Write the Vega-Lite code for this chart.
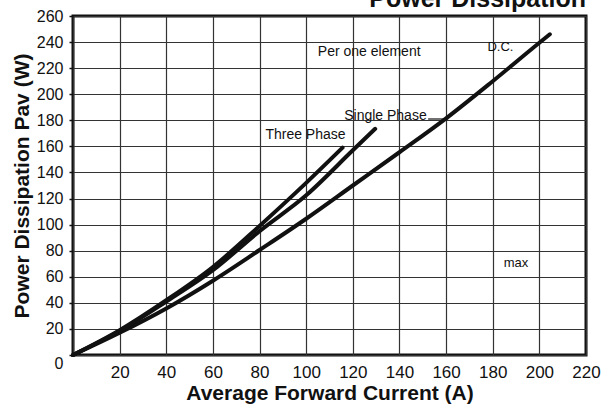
{
  "$schema": "https://vega.github.io/schema/vega-lite/v6.json",
  "autosize": {"type": "none"},
  "width": 513,
  "height": 339,
  "padding": {"left": 73, "top": 16, "right": 19, "bottom": 50},
  "background": "white",
  "title": {
    "text": "Power Dissipation",
    "anchor": "end",
    "frame": "group",
    "baseline": "alphabetic",
    "offset": -24,
    "font": "Liberation Sans",
    "fontSize": 25,
    "fontWeight": "bold",
    "color": "#111"
  },
  "config": {
    "view": {"stroke": "#111", "strokeWidth": 3},
    "axis": {
      "grid": true,
      "gridColor": "#333",
      "gridWidth": 1.2,
      "gridOpacity": 1,
      "domain": false,
      "labelFont": "Liberation Sans",
      "labelColor": "#111",
      "labelOverlap": false,
      "titleFont": "Liberation Sans",
      "titleFontWeight": "bold",
      "titleColor": "#111"
    }
  },
  "datasets": {
    "curves": [
      {"series": "D.C.", "current": 0, "power": 0},
      {"series": "D.C.", "current": 20, "power": 17},
      {"series": "D.C.", "current": 40, "power": 35.7},
      {"series": "D.C.", "current": 60, "power": 57},
      {"series": "D.C.", "current": 80, "power": 80.5},
      {"series": "D.C.", "current": 100, "power": 104.5},
      {"series": "D.C.", "current": 120, "power": 130},
      {"series": "D.C.", "current": 140, "power": 155.5},
      {"series": "D.C.", "current": 160, "power": 181.5},
      {"series": "D.C.", "current": 180, "power": 210},
      {"series": "D.C.", "current": 200, "power": 239.5},
      {"series": "D.C.", "current": 204.5, "power": 246},
      {"series": "Single Phase", "current": 0, "power": 0},
      {"series": "Single Phase", "current": 20, "power": 18.5},
      {"series": "Single Phase", "current": 40, "power": 41},
      {"series": "Single Phase", "current": 60, "power": 65},
      {"series": "Single Phase", "current": 80, "power": 95},
      {"series": "Single Phase", "current": 100, "power": 122.5},
      {"series": "Single Phase", "current": 120, "power": 157},
      {"series": "Single Phase", "current": 129.6, "power": 173.5},
      {"series": "Three Phase", "current": 0, "power": 0},
      {"series": "Three Phase", "current": 20, "power": 19},
      {"series": "Three Phase", "current": 40, "power": 42},
      {"series": "Three Phase", "current": 60, "power": 67.5},
      {"series": "Three Phase", "current": 80, "power": 99},
      {"series": "Three Phase", "current": 100, "power": 132},
      {"series": "Three Phase", "current": 115.6, "power": 159}
    ],
    "labelsLeft": [
      {"label": "Per one element", "current": 105, "power": 232.4, "size": 14},
      {"label": "Single Phase", "current": 116.3, "power": 183.3, "size": 14},
      {"label": "Three Phase", "current": 82.5, "power": 168.7, "size": 14}
    ],
    "labelsCenter": [
      {"label": "D.C.", "current": 183.3, "power": 236},
      {"label": "max", "current": 190, "power": 70.6}
    ],
    "leader": [
      {"current": 152.3, "current2": 160.9, "power": 181}
    ]
  },
  "encoding": {
    "x": {
      "field": "current", "type": "quantitative",
      "scale": {"domain": [0, 220], "nice": false},
      "axis": {
        "values": [0, 20, 40, 60, 80, 100, 120, 140, 160, 180, 200, 220],
        "labelExpr": "datum.value == 0 ? '' : datum.label",
        "ticks": false,
        "labelFontSize": 17,
        "labelPadding": 9,
        "labelOverlap": false,
        "labelFlush": false,
        "title": "Average Forward Current (A)",
        "titleFontSize": 21,
        "titlePadding": 2
      }
    },
    "y": {
      "field": "power", "type": "quantitative",
      "scale": {"domain": [0, 260], "nice": false},
      "axis": {
        "values": [0, 20, 40, 60, 80, 100, 120, 140, 160, 180, 200, 220, 240, 260],
        "tickCount": 14,
        "ticks": true,
        "tickSize": 4,
        "tickColor": "#111",
        "tickWidth": 1.5,
        "labelFontSize": 16,
        "labelPadding": 6,
        "labelOverlap": false,
        "labelFlush": false,
        "labelBound": false,
        "labelBaseline": {"condition": {"test": "datum.value == 0", "value": "top"}, "value": "middle"},
        "title": "Power Dissipation Pav (W)",
        "titleFontSize": 21,
        "titlePadding": 4
      }
    }
  },
  "layer": [
    {
      "data": {"name": "curves"},
      "mark": {"type": "line", "color": "#111", "strokeWidth": 4, "strokeCap": "round", "interpolate": "monotone"},
      "encoding": {
        "detail": {"field": "series", "type": "nominal"}
      }
    },
    {
      "data": {"name": "labelsLeft"},
      "mark": {"type": "text", "align": "left", "baseline": "middle", "font": "Liberation Sans", "color": "#111"},
      "encoding": {
        "text": {"field": "label"},
        "size": {"field": "size", "type": "quantitative", "scale": null}
      }
    },
    {
      "data": {"name": "labelsCenter"},
      "mark": {"type": "text", "align": "center", "baseline": "middle", "font": "Liberation Sans", "fontSize": 13, "color": "#111"},
      "encoding": {
        "text": {"field": "label"}
      }
    },
    {
      "data": {"name": "leader"},
      "mark": {"type": "rule", "color": "#111", "strokeWidth": 1.2},
      "encoding": {
        "x2": {"field": "current2"}
      }
    }
  ]
}
